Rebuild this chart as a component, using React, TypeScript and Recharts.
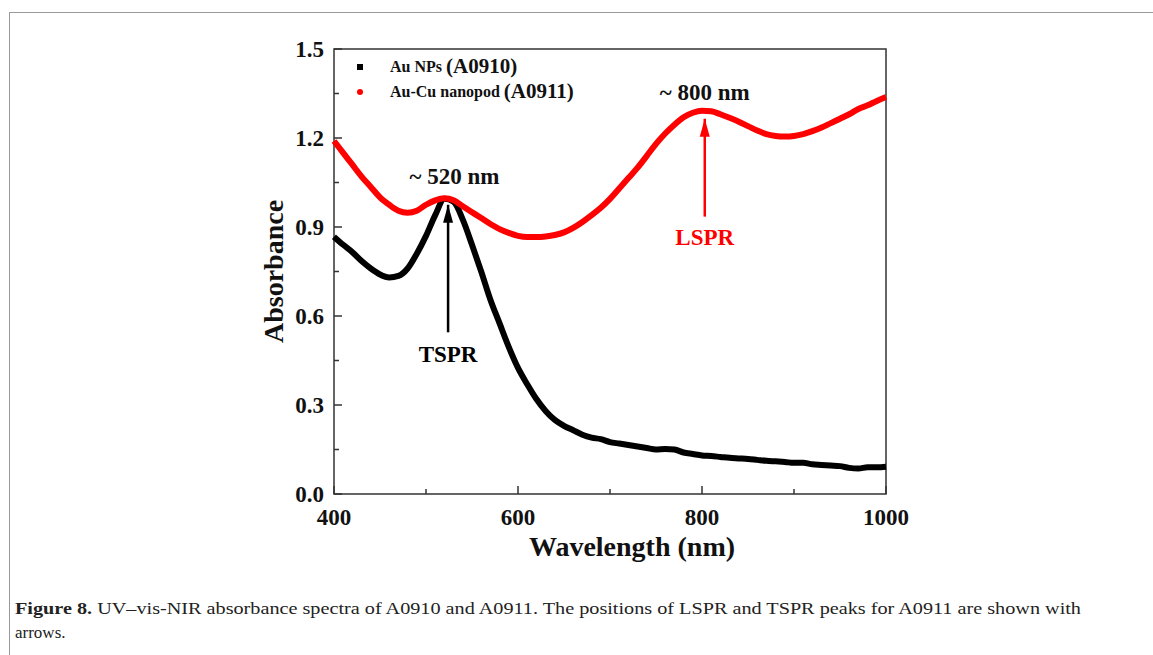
import {
  Legend,
  Line,
  LineChart,
  ReferenceArea,
  ReferenceDot,
  ReferenceLine,
  XAxis,
  YAxis,
} from 'recharts';

const wavelengths = [
  400, 410, 420, 430, 440, 450, 460, 470, 480, 490, 500, 510, 520, 530, 540, 550, 560, 570, 580, 590,
  600, 610, 620, 630, 640, 650, 660, 670, 680, 690, 700, 710, 720, 730, 740, 750, 760, 770, 780, 790,
  800, 810, 820, 830, 840, 850, 860, 870, 880, 890, 900, 910, 920, 930, 940, 950, 960, 970, 980, 990,
  1000,
];

// Au NPs (A0910)
const auNps = [
  0.867, 0.84, 0.815, 0.785, 0.76, 0.74, 0.73, 0.735, 0.76, 0.81, 0.87, 0.94, 0.995, 0.985, 0.925,
  0.84, 0.75, 0.655, 0.575, 0.495, 0.425, 0.37, 0.32, 0.28, 0.25, 0.23, 0.215, 0.2, 0.19, 0.185,
  0.175, 0.17, 0.165, 0.16, 0.155, 0.15, 0.152, 0.15, 0.14, 0.135, 0.13, 0.128, 0.125, 0.122, 0.12,
  0.118, 0.115, 0.112, 0.11, 0.108, 0.105, 0.105, 0.1, 0.098, 0.096, 0.094, 0.088, 0.086, 0.09, 0.09,
  0.092,
];

// Au-Cu nanopod (A0911)
const auCuNanopod = [
  1.19, 1.15, 1.11, 1.07, 1.035, 1.0, 0.975, 0.955, 0.948, 0.955, 0.975, 0.99, 0.997, 0.99, 0.97,
  0.95, 0.93, 0.91, 0.893, 0.88, 0.87, 0.866, 0.866, 0.868, 0.873, 0.882, 0.897, 0.917, 0.94, 0.965,
  0.995, 1.03, 1.065, 1.1, 1.14, 1.18, 1.215, 1.245, 1.27, 1.285, 1.292, 1.29, 1.28, 1.268, 1.255,
  1.24, 1.225, 1.213, 1.207, 1.205, 1.207, 1.213, 1.223, 1.235, 1.25, 1.265, 1.28, 1.298, 1.31, 1.325,
  1.338,
];

const seriesNames: Record<string, string> = { au: 'Au NPs', aucu: 'Au-Cu nanopod' };
const sampleCodes: Record<string, string> = { au: '(A0910)', aucu: '(A0911)' };

const xTicks = [400, 500, 600, 700, 800, 900, 1000];
const xLabelled = [400, 600, 800, 1000];
const yTicks = [0, 0.15, 0.3, 0.45, 0.6, 0.75, 0.9, 1.05, 1.2, 1.35, 1.5];
const yLabelled = [0, 0.3, 0.6, 0.9, 1.2, 1.5];

// peak arrows: wavelength, arrow tip / tail absorbance, label position
const peakNames = ['TSPR', 'LSPR'];
const peakX = [524, 803];
const peakTip = [0.975, 1.265];
const peakTail = [0.545, 0.935];
const peakLabelY = [0.47, 0.865];
const peakNotes = ['~ 520 nm', '~ 800 nm'];
const peakNoteX = [531, 803];
const peakNoteY = [1.07, 1.355];

const data = wavelengths.map((w, i) => ({ w, au: auNps[i], aucu: auCuNanopod[i] }));

const SERIF = '"Liberation Serif", "Times New Roman", serif';
const AXIS = '#333';
const RED = '#ff0000';
const peakColors = ['#000', RED];

function XTick(props: any) {
  const { x, y, payload } = props;
  const major = xLabelled.includes(payload.value);
  return (
    <g>
      <line x1={x} x2={x} y1={y} y2={y - (major ? 8 : 5)} stroke={AXIS} strokeWidth={1.5} />
      {major && (
        <text x={x} y={y + 31} textAnchor="middle" fontFamily={SERIF} fontWeight="bold" fontSize={23} fill="#111">
          {payload.value}
        </text>
      )}
    </g>
  );
}

function YTick(props: any) {
  const { x, y, payload } = props;
  const major = yLabelled.some((v) => Math.abs(v - payload.value) < 1e-6);
  return (
    <g>
      <line x1={x} x2={x + (major ? 8 : 5)} y1={y} y2={y} stroke={AXIS} strokeWidth={1.5} />
      {major && (
        <text
          x={x - 10}
          y={y}
          textAnchor="end"
          dominantBaseline="central"
          fontFamily={SERIF}
          fontWeight="bold"
          fontSize={23}
          fill="#111"
        >
          {payload.value.toFixed(1)}
        </text>
      )}
    </g>
  );
}

function renderLegend(props: any) {
  const { payload = [] } = props;
  return (
    <div style={{ fontFamily: SERIF, fontWeight: 'bold', color: '#111' }}>
      {payload.map((entry: any) => (
        <div key={entry.dataKey} style={{ display: 'flex', alignItems: 'center', height: 25, whiteSpace: 'nowrap' }}>
          <span
            style={{
              display: 'inline-block',
              width: 6,
              height: 6,
              background: entry.color,
              borderRadius: entry.dataKey === 'aucu' ? '50%' : 0,
              marginRight: 27,
            }}
          />
          <span style={{ fontSize: 16 }}>{seriesNames[entry.dataKey]}</span>
          <span style={{ fontSize: 21, marginLeft: 4 }}>{sampleCodes[entry.dataKey]}</span>
        </div>
      ))}
    </div>
  );
}

export default function App() {
  return (
    <div style={{ position: 'absolute', left: 0, top: 0, width: 1153, height: 655, background: '#fff', overflow: 'hidden' }}>
      <div
        style={{
          position: 'absolute',
          left: 9,
          top: 12,
          width: 1200,
          height: 700,
          borderLeft: '1.5px solid #999',
          borderTop: '1.5px solid #999',
        }}
      />
      <div style={{ position: 'absolute', left: 0, top: 0 }}>
        <LineChart width={1153} height={600} data={data} margin={{ top: 49, right: 267, bottom: 56, left: 254 }}>
          <XAxis
            dataKey="w"
            type="number"
            domain={[400, 1000]}
            ticks={xTicks}
            interval={0}
            height={50}
            axisLine={false}
            tickLine={false}
            tickSize={0}
            tickMargin={0}
            tick={XTick}
            label={(p: any) => {
              const vb = p.viewBox;
              return (
                <text
                  x={vb.x + vb.width / 2 + 22}
                  y={vb.y + 62}
                  textAnchor="middle"
                  fontFamily={SERIF}
                  fontWeight="bold"
                  fontSize={28}
                  fill="#111"
                >
                  Wavelength (nm)
                </text>
              );
            }}
          />
          <YAxis
            type="number"
            domain={[0, 1.5]}
            ticks={yTicks}
            interval={0}
            width={80}
            axisLine={false}
            tickLine={false}
            tickSize={0}
            tickMargin={0}
            tick={YTick}
            label={(p: any) => {
              const vb = p.viewBox;
              const cx = vb.x + 19;
              const cy = vb.y + vb.height / 2;
              return (
                <text
                  x={cx}
                  y={cy}
                  transform={`rotate(-90 ${cx} ${cy})`}
                  textAnchor="middle"
                  dominantBaseline="central"
                  fontFamily={SERIF}
                  fontWeight="bold"
                  fontSize={28}
                  fill="#111"
                >
                  Absorbance
                </text>
              );
            }}
          />
          <ReferenceArea x1={400} x2={1000} y1={0} y2={1.5} fill="none" stroke={AXIS} strokeWidth={1.5} ifOverflow="visible" />
          <Legend
            layout="vertical"
            align="center"
            verticalAlign="middle"
            content={renderLegend}
            wrapperStyle={{ left: 357, top: 54, width: 300, height: 50 }}
          />
          <Line
            dataKey="au"
            name="Au NPs (A0910)"
            stroke="#000"
            strokeWidth={6}
            dot={false}
            type="monotone"
            isAnimationActive={false}
          />
          <Line
            dataKey="aucu"
            name="Au-Cu nanopod (A0911)"
            stroke={RED}
            strokeWidth={6}
            dot={false}
            type="monotone"
            isAnimationActive={false}
          />
          {peakNames.map((name, i) => (
            <ReferenceLine
              key={`shaft-${name}`}
              segment={[
                { x: peakX[i], y: peakTail[i] },
                { x: peakX[i], y: peakTip[i] },
              ]}
              stroke={peakColors[i]}
              strokeWidth={2.5}
            />
          ))}
          {peakNames.map((name, i) => (
            <ReferenceDot
              key={`head-${name}`}
              x={peakX[i]}
              y={peakTip[i]}
              r={0}
              shape={(p: any) => (
                <path d={`M${p.cx},${p.cy} L${p.cx - 5},${p.cy + 18} L${p.cx + 5},${p.cy + 18} Z`} fill={peakColors[i]} />
              )}
            />
          ))}
          {peakNames.map((name, i) => (
            <ReferenceDot
              key={`label-${name}`}
              x={peakX[i]}
              y={peakLabelY[i]}
              r={0}
              shape={(p: any) => (
                <text
                  x={p.cx}
                  y={p.cy}
                  textAnchor="middle"
                  dominantBaseline="central"
                  fontFamily={SERIF}
                  fontWeight="bold"
                  fontSize={23}
                  fill={peakColors[i]}
                >
                  {name}
                </text>
              )}
            />
          ))}
          {peakNotes.map((note, i) => (
            <ReferenceDot
              key={`note-${note}`}
              x={peakNoteX[i]}
              y={peakNoteY[i]}
              r={0}
              shape={(p: any) => (
                <text
                  x={p.cx}
                  y={p.cy}
                  textAnchor="middle"
                  dominantBaseline="central"
                  fontFamily={SERIF}
                  fontWeight="bold"
                  fontSize={23}
                  fill="#111"
                >
                  {note}
                </text>
              )}
            />
          ))}
        </LineChart>
      </div>
      <svg width={1153} height={655} style={{ position: 'absolute', left: 0, top: 0, pointerEvents: 'none' }}>
        <text x={15} y={614} fontFamily={SERIF} fontSize={17} fill="#222" textLength={1066} lengthAdjust="spacingAndGlyphs">
          <tspan fontWeight="bold">Figure 8.</tspan> UV–vis-NIR absorbance spectra of A0910 and A0911. The positions of LSPR and
          TSPR peaks for A0911 are shown with
        </text>
        <text x={15} y={638} fontFamily={SERIF} fontSize={17} fill="#222">
          arrows.
        </text>
      </svg>
    </div>
  );
}
